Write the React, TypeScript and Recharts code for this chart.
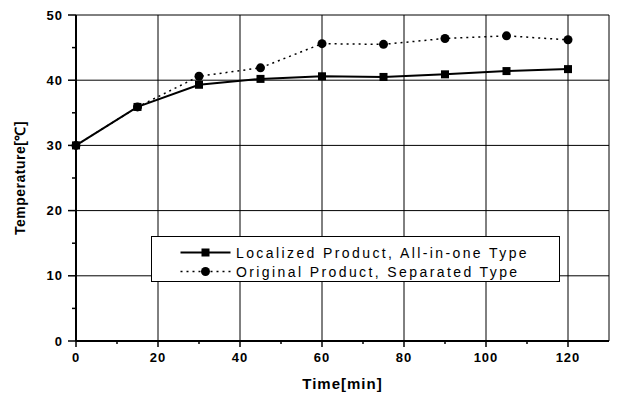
import React from "react";
import { LineChart, Line, XAxis, YAxis, CartesianGrid, Legend } from "recharts";

const times = [0, 15, 30, 45, 60, 75, 90, 105, 120];
const localized = [30, 35.9, 39.3, 40.2, 40.6, 40.5, 40.9, 41.4, 41.7];
const original = [30, 35.9, 40.6, 41.9, 45.6, 45.5, 46.4, 46.8, 46.2];

const xTicks = [0, 10, 20, 30, 40, 50, 60, 70, 80, 90, 100, 110, 120];
const xMajor = [0, 20, 40, 60, 80, 100, 120];
const yTicks = [0, 5, 10, 15, 20, 25, 30, 35, 40, 45, 50];
const yMajor = [0, 10, 20, 30, 40, 50];
const topTicks = [10, 30, 50, 70, 90, 110];
const rightTicks = [5, 15, 25, 35, 45];

const seriesNames = [
  "Localized Product, All-in-one Type",
  "Original Product, Separated Type",
];

const data = times.map((t, i) => ({
  time: t,
  localized: localized[i],
  original: original[i],
}));

const font = "'Liberation Sans', Arial, sans-serif";

const LeftTick = (props: any) => {
  const { x, y, payload } = props;
  const major = yMajor.includes(payload.value);
  const axisX = x + 13;
  return (
    <g>
      <line x1={axisX - (major ? 8 : 4)} x2={axisX} y1={y} y2={y} stroke="#000" strokeWidth={1.5} />
      {major && (
        <text x={x} y={y} dy="0.35em" textAnchor="end" fontFamily={font} fontSize={13} fontWeight="bold" letterSpacing={1} fill="#000">
          {payload.value}
        </text>
      )}
    </g>
  );
};

const BottomTick = (props: any) => {
  const { x, y, payload } = props;
  const major = xMajor.includes(payload.value);
  const axisY = y - 12;
  return (
    <g>
      <line x1={x} x2={x} y1={axisY} y2={axisY + (major ? 6 : 3)} stroke="#000" strokeWidth={1.5} />
      {major && (
        <text x={x} y={y} dy="0.71em" textAnchor="middle" fontFamily={font} fontSize={13} fontWeight="bold" letterSpacing={1} fill="#000">
          {payload.value}
        </text>
      )}
    </g>
  );
};

const TopTick = (props: any) => {
  const { x, y } = props;
  return <line x1={x} x2={x} y1={y} y2={y + 4} stroke="#000" strokeWidth={1.5} />;
};

const RightTick = (props: any) => {
  const { x, y } = props;
  return <line x1={x - 4} x2={x} y1={y} y2={y} stroke="#000" strokeWidth={1.5} />;
};

const SquareDot = (props: any) => {
  const { cx, cy, index } = props;
  return <rect key={index} x={cx - 4} y={cy - 4} width={8} height={8} fill="#000" />;
};

const CircleDot = (props: any) => {
  const { cx, cy, index } = props;
  return <circle key={index} cx={cx} cy={cy} r={4.5} fill="#000" />;
};

const LegendBox = () => (
  <div
    style={{
      width: 409,
      height: 46,
      border: "1.5px solid #000",
      background: "#fff",
      boxSizing: "border-box",
      fontFamily: font,
      fontSize: 14,
      letterSpacing: 2.4,
      color: "#000",
    }}
  >
    {seriesNames.map((name, i) => (
      <div
        key={name}
        style={{ display: "flex", alignItems: "center", height: 19, marginTop: i === 0 ? 6 : 0 }}
      >
        <svg width={84} height={19} style={{ flex: "none" }}>
          <line
            x1={28.5}
            x2={78.5}
            y1={9.5}
            y2={9.5}
            stroke="#000"
            strokeWidth={i === 0 ? 2 : 1.5}
            strokeDasharray={i === 0 ? undefined : "2 4"}
          />
          {i === 0 ? (
            <rect x={49.5} y={5.5} width={8} height={8} fill="#000" />
          ) : (
            <circle cx={53.5} cy={9.5} r={4.5} fill="#000" />
          )}
        </svg>
        <span style={{ whiteSpace: "nowrap" }}>{name}</span>
      </div>
    ))}
  </div>
);

export default function App() {
  return (
    <div style={{ position: "absolute", left: 0, top: 0, background: "#fff" }}>
      <LineChart width={619} height={400} data={data} margin={{ top: 15, right: 10, bottom: 29, left: 16 }}>
        <CartesianGrid
          stroke="#000"
          strokeWidth={1}
          verticalValues={[...xMajor, 130]}
          horizontalValues={yMajor}
        />
        <XAxis
          dataKey="time"
          type="number"
          domain={[0, 130]}
          ticks={xTicks}
          interval={0}
          height={30}
          tickSize={6}
          tickMargin={6}
          tickLine={false}
          tick={<BottomTick />}
          axisLine={{ stroke: "#000", strokeWidth: 2 }}
          label={{
            value: "Time[min]",
            position: "bottom",
            offset: 7,
            style: { fontFamily: font, fontSize: 15, fontWeight: "bold", letterSpacing: 1, fill: "#000" },
          }}
        />
        <XAxis
          xAxisId="top"
          orientation="top"
          type="number"
          domain={[0, 130]}
          ticks={topTicks}
          interval={0}
          height={0}
          tickSize={0}
          tickMargin={0}
          tickLine={false}
          tick={<TopTick />}
          axisLine={{ stroke: "#000", strokeWidth: 1.5 }}
        />
        <YAxis
          type="number"
          domain={[0, 50]}
          ticks={yTicks}
          interval={0}
          width={60}
          tickSize={8}
          tickMargin={5}
          tickLine={false}
          tick={<LeftTick />}
          axisLine={{ stroke: "#000", strokeWidth: 2 }}
          label={{
            value: "Temperature[℃]",
            angle: -90,
            position: "insideLeft",
            offset: 4,
            style: { textAnchor: "middle", fontFamily: font, fontSize: 14, fontWeight: "bold", letterSpacing: 0.5, fill: "#000" },
          }}
        />
        <YAxis
          yAxisId="right"
          orientation="right"
          type="number"
          domain={[0, 50]}
          ticks={rightTicks}
          interval={0}
          width={0}
          tickSize={0}
          tickMargin={0}
          tickLine={false}
          tick={<RightTick />}
          axisLine={{ stroke: "#000", strokeWidth: 2 }}
        />
        <Legend
          layout="vertical"
          align="center"
          verticalAlign="middle"
          content={<LegendBox />}
          wrapperStyle={{ left: 151, top: 236, width: 409, height: 46 }}
        />
        <Line
          dataKey="localized"
          name={seriesNames[0]}
          stroke="#000"
          strokeWidth={2}
          dot={SquareDot}
          activeDot={false}
          isAnimationActive={false}
        />
        <Line
          dataKey="original"
          name={seriesNames[1]}
          stroke="#000"
          strokeWidth={1.5}
          strokeDasharray="2 4"
          dot={CircleDot}
          activeDot={false}
          isAnimationActive={false}
        />
      </LineChart>
    </div>
  );
}
